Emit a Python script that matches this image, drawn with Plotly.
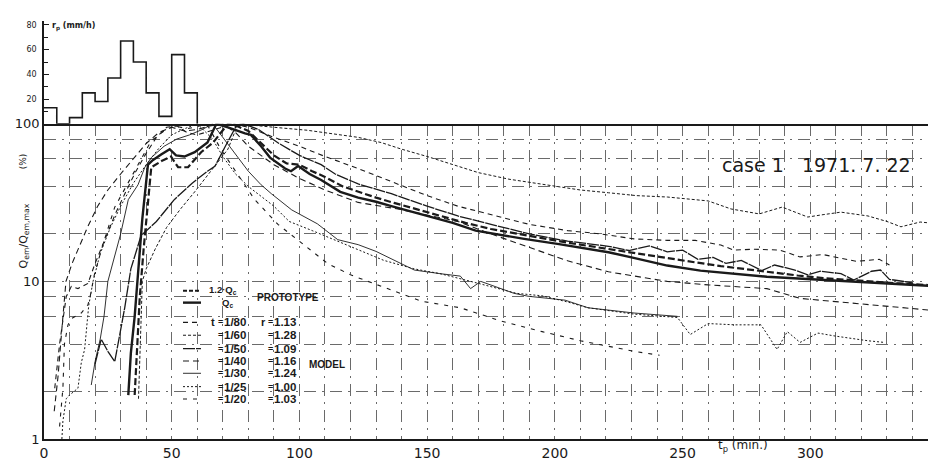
import plotly.graph_objects as go

# ---------------- data ----------------
rain_edges = [0, 5, 10, 15, 20, 25, 30, 35, 40, 45, 50, 55, 60]
rain_mm_h = [13, 0, 5, 25, 18, 37, 67, 50, 25, 6, 56, 25]

proto_qc_x = [33, 34, 35.5, 36.8, 38.5, 40.7, 42.7, 46, 49.2, 51.7, 55, 59, 64, 67.5, 72, 78.7, 81, 85, 88.5, 94.4,
              96.7, 99.5, 104, 108.5, 116, 123, 130, 136, 150, 160, 169, 178, 188, 201, 212, 221, 230, 244, 257, 270,
              283, 297, 310, 320, 331, 340, 350]
proto_qc_y = [1.9, 3.5, 6, 10.7, 25, 55, 59, 64, 69, 63, 62, 66, 76, 100, 95, 87, 85, 72, 61, 52,
              50, 54, 48, 44, 37, 34, 32, 30, 26, 23.5, 21, 19.8, 18.6, 17.3, 16.2, 15.3, 14.2, 12.6, 11.7, 11.2,
              10.7, 10.4, 10.1, 9.9, 9.7, 9.5, 9.3]

proto_12qc_x = [35.5, 36.5, 37.5, 39, 41, 42, 46, 49.7, 52.5, 56.4, 61.5, 66.2, 72, 76, 80, 85, 90, 95, 100, 105,
                110, 117, 123, 130, 137, 145, 155, 165, 175, 185, 195, 205, 215, 225, 235, 245, 255, 265, 275, 285,
                295, 305, 315, 325, 335, 350]
proto_12qc_y = [1.9, 4, 8, 16, 35, 53, 58, 62, 53, 53, 66, 76, 100, 96, 90, 75, 63, 56, 55, 50,
                46, 40, 37, 34, 31.5, 29, 26, 23.5, 21.5, 20, 18.8, 17.6, 16.6, 15.6, 14.8, 14.0, 13.2, 12.5, 11.9,
                11.4, 10.9, 10.5, 10.2, 9.9, 9.7, 9.4]

m80_x = [4.2, 6.1, 8.7, 10.7, 13.3, 17.2, 20, 24, 28, 32, 36, 40, 44, 48, 52, 56, 60, 65, 70, 74,
         80, 90, 100, 110, 123, 138, 150, 162, 175, 190, 205, 218, 231, 244, 255, 265, 270, 278, 288, 296,
         305, 318, 327, 331]
m80_y = [2.1, 4, 8, 9.3, 9.0, 9.7, 13, 19, 27, 37, 50, 65, 82, 95, 97, 88, 85, 90, 96, 100,
         95, 82, 72, 62, 52, 42, 35, 30, 26.5, 23, 21, 20, 18.6, 18.2, 18.2, 17, 15.8, 16, 15.8, 14.3,
         14.8, 13.4, 13.8, 12.7]

m60_x = [37, 37.8, 38.5, 40, 43.5, 48, 53.6, 59, 64, 68, 72, 76, 83, 90, 103, 115, 123, 132, 140, 150,
         160, 170, 182, 192, 200, 210, 221, 232, 244, 252, 260, 269, 280, 289, 299, 305, 312, 322.6, 330, 335.5,
         343, 350]
m60_y = [1.8, 4, 10, 12, 16, 22, 29, 37, 47, 57, 69, 100, 97, 95, 91, 86, 82, 76, 69, 62,
         55, 49, 44.5, 42, 40, 38, 36.5, 35, 34.3, 33.3, 32.4, 28.8, 26.8, 29.6, 25.6, 26.5, 27.5, 26, 24, 22.2,
         23.8, 23.2]

m50_x = [20, 22.4, 25, 27.7, 31.6, 34, 38, 44, 51, 58, 64, 67, 71, 75, 78, 84, 92, 100, 108.5, 114,
         123, 136, 150, 162, 175, 190, 205, 221, 229, 237, 244, 250, 256, 262, 267, 273, 281, 286, 294, 299,
         304, 312, 317, 324, 327.5, 331, 340]
m50_y = [3.0, 4.3, 3.6, 3.1, 6.8, 12, 19.5, 24, 33, 42, 50, 54, 72, 95, 100, 92, 75, 63, 55, 48,
         41.5, 36, 30, 26, 23, 20, 18, 16.7, 15.7, 16.8, 15.4, 15.8, 13.8, 14.2, 13, 13.6, 11.7, 12.7, 11.8, 11.0,
         11.6, 11.2, 10.2, 11.6, 11.8, 10.3, 9.8]

m40_x = [4, 5.5, 7, 8.6, 11, 14, 17, 21, 25, 30, 35, 40, 45, 50, 55, 60, 65, 70, 75, 80,
         90, 100, 110, 123, 140, 162, 175, 188, 205, 221, 244, 260, 283, 296, 320, 350]
m40_y = [1.5, 2.5, 5, 10, 13, 17, 22, 30, 38, 48, 60, 75, 88, 95, 90, 92, 97, 100, 88, 72,
         55, 45, 38, 31.7, 28.5, 24, 20, 16.9, 13.5, 11.5, 10, 9.5, 9.0, 7.8, 7.2, 6.5]

m30_x = [18.5, 20, 22, 23.5, 25, 30, 33, 36.8, 39.5, 42, 47, 52, 57, 62, 66, 70, 75, 80, 85, 89,
         97, 107, 115, 123, 130, 140, 145, 155, 163, 167, 171, 184, 189.5, 204, 213, 231, 248]
m30_y = [2.2, 3.1, 4.3, 6, 10, 20, 33, 41, 53, 61, 72, 80, 85, 92, 100, 82, 64, 50, 41, 36,
         28.4, 23.2, 18.4, 17.1, 15.5, 13, 11.8, 11.2, 10.8, 9.0, 10, 8.4, 8.05, 7.6, 6.8, 6.3, 6.0]

m25_x = [7, 7.4, 8.7, 10, 13.3, 14.6, 15.9, 17.5, 19.2, 22, 26, 30, 35, 40, 45, 50, 55, 60, 66, 70,
         75, 80, 90, 96, 105, 115, 123, 133, 145, 155, 165, 175, 185, 195, 205, 213, 231, 248, 253, 260,
         270.5, 280.7, 287, 291, 296, 303, 309.7, 322.6, 329]
m25_y = [1.0, 1.3, 1.8, 1.9, 2.1, 3.05, 3.7, 7, 10, 15, 22, 30, 42, 55, 70, 85, 93, 100, 80, 62,
         48, 40, 30, 24, 21, 18, 16, 13.6, 12, 11.2, 10.2, 9.3, 8.4, 8.1, 7.4, 6.8, 6.2, 5.9, 4.6, 5.4,
         5.3, 5.3, 3.7, 4.8, 4.1, 4.7, 4.5, 4.2, 4.1]

m20_x = [6.1, 7.4, 8, 9.4, 10.7, 14.6, 17.2, 18.5, 19.5, 23, 27.7, 34, 38, 42, 47, 51, 56, 60, 63, 64.5,
         69.3, 74.8, 82.5, 91.6, 102, 111, 120, 130.8, 147.6, 163, 179, 195, 210, 231, 241]
m20_y = [1.2, 2.1, 4, 5.3, 5.8, 6.3, 7.1, 8.6, 10.7, 17, 29.6, 45, 60, 78, 90, 97, 93, 96, 100, 95,
         68.6, 50.5, 33, 23, 17, 13, 11, 9.5, 7.5, 6.8, 5.6, 4.8, 4.2, 3.6, 3.4]

model_scale = ["1/80", "1/60", "1/50", "1/40", "1/30", "1/25", "1/20"]
model_r = ["1.13", "1.28", "1.09", "1.16", "1.24", "1.00", "1.03"]

# ---------------- styles ----------------
INK = "#1a1a1a"
model_styles = [
    dict(width=1.1, dash="5px,4px"),   # 1/80
    dict(width=1.0, dash="3px,2px"),   # 1/60
    dict(width=1.3, dash="12px,1px"),  # 1/50
    dict(width=1.1, dash="6px,4px"),   # 1/40
    dict(width=0.9, dash="solid"),     # 1/30
    dict(width=1.0, dash="2px,2px"),   # 1/25
    dict(width=1.1, dash="4px,6px"),   # 1/20
]
model_data = [(m80_x, m80_y), (m60_x, m60_y), (m50_x, m50_y), (m40_x, m40_y),
              (m30_x, m30_y), (m25_x, m25_y), (m20_x, m20_y)]

fig = go.Figure()

# hyetograph (step outline)
step_x = rain_edges
step_y = rain_mm_h + [0]
fig.add_trace(go.Scatter(x=step_x, y=step_y, mode="lines", line=dict(color=INK, width=1.6, shape="hv"),
                         xaxis="x2", yaxis="y2", showlegend=False, hoverinfo="skip"))

for (xs, ys), st in zip(model_data, model_styles):
    fig.add_trace(go.Scatter(x=xs, y=ys, mode="lines",
                             line=dict(color=INK, width=st["width"], dash=st["dash"]),
                             showlegend=False))

fig.add_trace(go.Scatter(x=proto_12qc_x, y=proto_12qc_y, mode="lines",
                         line=dict(color=INK, width=2.2, dash="7px,3px"), showlegend=False))
fig.add_trace(go.Scatter(x=proto_qc_x, y=proto_qc_y, mode="lines",
                         line=dict(color=INK, width=2.4), showlegend=False))

# ---------------- layout ----------------
L, R, T, B = 36, 6, 10, 26
W, H = 936, 459
PW, PH = W - L - R, H - T - B


def pxx(px):
    return (px - L) / PW


def pyy(py):
    return (H - B - py) / PH


split = pyy(114)
GRID = dict(gridcolor="#6a6a6a", griddash="12px,6px,2px,6px", gridwidth=1)

fig.update_layout(
    width=W, height=H,
    margin=dict(l=L, r=R, t=T, b=B),
    paper_bgcolor="white", plot_bgcolor="white",
    font=dict(family="DejaVu Sans", color=INK),
    xaxis=dict(domain=[0, 1], range=[0, 350], anchor="y",
               tickvals=[0, 50, 100, 150, 200, 250, 300, 350],
               ticks="", showline=True, linecolor=INK, linewidth=1.5,
               showgrid=True, **GRID,
               minor=dict(dtick=10, tick0=0, showgrid=True, **GRID),
               tickfont=dict(size=14, family="DejaVu Sans"), zeroline=False),
    yaxis=dict(domain=[0, split], type="log", range=[0, 2], anchor="x",
               tickvals=[1, 10, 100], ticktext=["1", "10", "100"],
               ticks="", showline=True, linecolor=INK, linewidth=1.5,
               showgrid=True, **GRID,
               minor=dict(tickvals=[2, 4, 6, 8, 20, 40, 60, 80], showgrid=True, **GRID),
               tickfont=dict(size=13, family="DejaVu Sans"), zeroline=False),
    xaxis2=dict(domain=[0, 1], range=[0, 350], anchor="y2", matches="x",
                showticklabels=False, ticks="", showgrid=False, zeroline=False,
                showline=True, linecolor=INK, linewidth=2),
    yaxis2=dict(domain=[split, 1], range=[0, 83.2], anchor="x2",
                tickvals=[20, 40, 60, 80], ticks="inside", ticklen=5, tickcolor=INK,
                minor=dict(tickvals=[10, 30, 50, 70], ticks="inside", ticklen=4, tickcolor=INK),
                showline=True, linecolor=INK, linewidth=1.5, showgrid=False, zeroline=False,
                tickfont=dict(size=8, family="DejaVu Sans"), ticklabelstandoff=4),
)

ann = []


def text(px, py, s, size=10, xanchor="left", angle=0, bold=False, family="DejaVu Sans"):
    ann.append(dict(x=pxx(px), y=pyy(py), xref="paper", yref="paper", text=("<b>%s</b>" % s) if bold else s,
                    showarrow=False, xanchor=xanchor, yanchor="middle", textangle=angle,
                    font=dict(size=size, family=family, color=INK)))


text(42, 16, "r<sub>p</sub> (mm/h)", size=8, bold=True)
text(15, 152, "(%)", size=9, xanchor="center", angle=-90)
text(16, 228, "Q<sub>em</sub>/Q<sub>em,max</sub>", size=11, xanchor="center", angle=-90)
text(808, 156, "case 1\u00a0\u00a0\u00a01971.\u00a07.\u00a022", size=19, xanchor="center")
text(735, 440, "t<sub>p</sub>\u00a0(min.)", size=12, xanchor="center")

# legend (drawn keys)
shapes = []


def key(py, width, dash):
    shapes.append(dict(type="line", xref="paper", yref="paper",
                       x0=pxx(175), x1=pxx(193), y0=pyy(py), y1=pyy(py),
                       line=dict(color=INK, width=width, dash=dash)))


LF = "Liberation Sans"
key(283, 1.8, "4px,2px")
key(295, 2.4, "solid")
text(199, 282, "1.2·Q<sub>c</sub>", size=9.5, bold=True, family=LF)
text(212, 295, "Q<sub>c</sub>", size=9.5, bold=True, family=LF)
text(247, 290, "PROTOTYPE", size=10, bold=True, family=LF)

rows = [315, 328, 341.5, 354, 366.5, 380, 392.5]
for i, py in enumerate(rows):
    key(py, model_styles[i]["width"], model_styles[i]["dash"])
    if i == 0:
        text(201, py, "t", size=11, bold=True, family=LF)
        text(251, py, "r", size=11, bold=True, family=LF)
    text(208, py, "=", size=9, bold=True, family=LF)
    text(214, py, model_scale[i], size=11.5, bold=True, family=LF)
    text(258, py, "=", size=9, bold=True, family=LF)
    text(264, py, model_r[i], size=11.5, bold=True, family=LF)
text(299, 358, "MODEL", size=10, bold=True, family=LF)

fig.update_layout(annotations=ann, shapes=shapes)

fig.write_html("out.html")
